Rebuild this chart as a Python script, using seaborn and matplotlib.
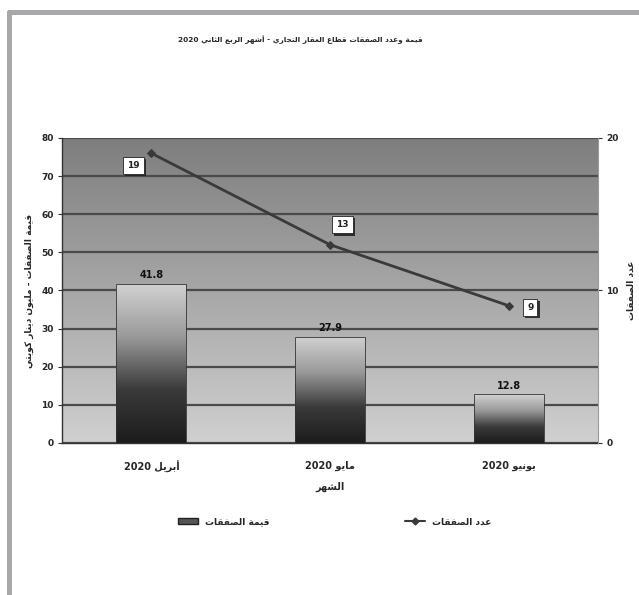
import numpy as np
import pandas as pd
import matplotlib
matplotlib.use("Agg")
import matplotlib.pyplot as plt
import matplotlib.patheffects as pe
from matplotlib.colors import LinearSegmentedColormap
from matplotlib.patches import Patch, Rectangle
from matplotlib.lines import Line2D
import seaborn as sns

# ---- data -------------------------------------------------------------
months = ["أبريل 2020", "مايو 2020", "يونيو 2020"]
deal_value = [41.8, 27.9, 12.8]      # million KWD
deal_count = [19, 13, 9]

title_text = "قيمة وعدد الصفقات قطاع العقار التجاري - أشهر الربع الثاني 2020"
left_label = "قيمة الصفقات - مليون دينار كويتي"
right_label = "عدد الصفقات"
x_label = "الشهر"
value_name = "قيمة الصفقات"
count_name = "عدد الصفقات"

# ---- minimal Arabic shaping (presentation forms + visual order) -------
# base letter -> (isolated, final, initial, medial); right-joiners have 2 forms
FORMS = {
    "\u0621": (0xFE80,),
    "\u0622": (0xFE81, 0xFE82), "\u0623": (0xFE83, 0xFE84),
    "\u0624": (0xFE85, 0xFE86), "\u0625": (0xFE87, 0xFE88),
    "\u0626": (0xFE89, 0xFE8A, 0xFE8B, 0xFE8C),
    "\u0627": (0xFE8D, 0xFE8E),
    "\u0628": (0xFE8F, 0xFE90, 0xFE91, 0xFE92),
    "\u0629": (0xFE93, 0xFE94),
    "\u062A": (0xFE95, 0xFE96, 0xFE97, 0xFE98),
    "\u062B": (0xFE99, 0xFE9A, 0xFE9B, 0xFE9C),
    "\u062C": (0xFE9D, 0xFE9E, 0xFE9F, 0xFEA0),
    "\u062D": (0xFEA1, 0xFEA2, 0xFEA3, 0xFEA4),
    "\u062E": (0xFEA5, 0xFEA6, 0xFEA7, 0xFEA8),
    "\u062F": (0xFEA9, 0xFEAA), "\u0630": (0xFEAB, 0xFEAC),
    "\u0631": (0xFEAD, 0xFEAE), "\u0632": (0xFEAF, 0xFEB0),
    "\u0633": (0xFEB1, 0xFEB2, 0xFEB3, 0xFEB4),
    "\u0634": (0xFEB5, 0xFEB6, 0xFEB7, 0xFEB8),
    "\u0635": (0xFEB9, 0xFEBA, 0xFEBB, 0xFEBC),
    "\u0636": (0xFEBD, 0xFEBE, 0xFEBF, 0xFEC0),
    "\u0637": (0xFEC1, 0xFEC2, 0xFEC3, 0xFEC4),
    "\u0638": (0xFEC5, 0xFEC6, 0xFEC7, 0xFEC8),
    "\u0639": (0xFEC9, 0xFECA, 0xFECB, 0xFECC),
    "\u063A": (0xFECD, 0xFECE, 0xFECF, 0xFED0),
    "\u0641": (0xFED1, 0xFED2, 0xFED3, 0xFED4),
    "\u0642": (0xFED5, 0xFED6, 0xFED7, 0xFED8),
    "\u0643": (0xFED9, 0xFEDA, 0xFEDB, 0xFEDC),
    "\u0644": (0xFEDD, 0xFEDE, 0xFEDF, 0xFEE0),
    "\u0645": (0xFEE1, 0xFEE2, 0xFEE3, 0xFEE4),
    "\u0646": (0xFEE5, 0xFEE6, 0xFEE7, 0xFEE8),
    "\u0647": (0xFEE9, 0xFEEA, 0xFEEB, 0xFEEC),
    "\u0648": (0xFEED, 0xFEEE), "\u0649": (0xFEEF, 0xFEF0),
    "\u064A": (0xFEF1, 0xFEF2, 0xFEF3, 0xFEF4),
}
LAM_ALEF = {"\u0627": (0xFEFB, 0xFEFC), "\u0623": (0xFEF7, 0xFEF8),
            "\u0625": (0xFEF9, 0xFEFA), "\u0622": (0xFEF5, 0xFEF6)}


def dual(ch):
    return ch in FORMS and len(FORMS[ch]) == 4


def shape(text):
    out = []
    i = 0
    n = len(text)
    while i < n:
        ch = text[i]
        if ch not in FORMS:
            out.append(ch)
            i += 1
            continue
        joins_prev = i > 0 and dual(text[i - 1])
        if ch == "\u0644" and i + 1 < n and text[i + 1] in LAM_ALEF:
            iso, fin = LAM_ALEF[text[i + 1]]
            out.append(chr(fin if joins_prev else iso))
            i += 2
            continue
        forms = FORMS[ch]
        joins_next = dual(ch) and i + 1 < n and text[i + 1] in FORMS
        if len(forms) == 1:
            out.append(chr(forms[0]))
        elif joins_prev and joins_next:
            out.append(chr(forms[3]))
        elif joins_prev:
            out.append(chr(forms[1]))
        elif joins_next:
            out.append(chr(forms[2]))
        else:
            out.append(chr(forms[0]))
        i += 1
    vis = "".join(out)[::-1]
    # restore left-to-right order of digit runs
    res, run = [], []
    for c in vis:
        if c.isdigit() or c == ".":
            run.append(c)
        else:
            res.extend(reversed(run))
            run = []
            res.append(c)
    res.extend(reversed(run))
    return "".join(res)


# ---- figure -----------------------------------------------------------
sns.set_style("white")
plt.rcParams["font.family"] = ["DejaVu Sans"]
plt.rcParams["font.weight"] = "bold"

fig = plt.figure(figsize=(6.39, 5.95), dpi=100)
ax = fig.add_axes([0.097, 0.2555, 0.839, 0.5126])

df = pd.DataFrame({"month": months, "value": deal_value})
sns.barplot(data=df, x="month", y="value", ax=ax, width=0.39,
            color="#888888", edgecolor="#333333", linewidth=0.6, zorder=3)

ax.set_xlim(-0.5, 2.5)
ax.set_ylim(0, 80)

# plot-area background: dark at the top fading to light grey
bg_cmap = LinearSegmentedColormap.from_list("bg", ["#d0d0d0", "#7e7e7e"])
grad = np.linspace(0, 1, 256).reshape(-1, 1)
ax.imshow(grad, extent=[-0.5, 2.5, 0, 80], origin="lower", aspect="auto",
          cmap=bg_cmap, zorder=0)

# horizontal gridlines
ax.set_yticks(np.arange(0, 81, 10))
ax.grid(axis="y", color="#4a4a4a", linewidth=1.6, zorder=1)
for gl in ax.get_ygridlines():
    gl.set_zorder(1)

# bar fill: light at the top, almost black at the base
bar_cmap = LinearSegmentedColormap.from_list("bar", ["#1c1c1c", "#3a3a3a", "#9a9a9a", "#d2d2d2"])
for bar in ax.patches:
    if not isinstance(bar, Rectangle):
        continue
    x0, y0 = bar.get_x(), bar.get_y()
    w, h = bar.get_width(), bar.get_height()
    im = ax.imshow(grad, extent=[x0, x0 + w, y0, y0 + h], origin="lower",
                   aspect="auto", cmap=bar_cmap, zorder=2.5)
    im.set_clip_path(bar)
    bar.set_facecolor("none")

# value labels above the bars
for i, v in enumerate(deal_value):
    ax.text(i, v + 0.9, f"{v:.1f}", ha="center", va="bottom",
            fontsize=7, fontweight="bold", color="#111111", zorder=5)

ax.set_xlim(-0.5, 2.5)
ax.set_ylim(0, 80)

# category axis with ticks at the boundaries
ax.set_xticks(range(len(months)))
ax.set_xticklabels([shape(m) for m in months], fontsize=7, fontweight="bold")
ax.set_xticks([0.5, 1.5], minor=True)
ax.tick_params(axis="x", which="major", length=0, pad=13)
ax.tick_params(axis="x", which="minor", length=4, width=0.8, color="#333333")
ax.tick_params(axis="y", length=3, width=0.8, color="#333333", labelsize=6.5, pad=3)
for lab in ax.get_yticklabels():
    lab.set_fontweight("bold")
ax.set_xlabel(shape(x_label), fontsize=7, fontweight="bold", labelpad=6)
ax.set_ylabel(shape(left_label), fontsize=6.5, fontweight="bold", labelpad=5)

for side in ["top", "right"]:
    ax.spines[side].set_visible(False)
ax.spines["left"].set_color("#333333")
ax.spines["bottom"].set_color("#333333")
ax.spines["left"].set_linewidth(1.0)
ax.spines["bottom"].set_linewidth(1.0)

# deal count on the secondary axis
ax2 = ax.twinx()
pos = np.arange(len(months))
sns.lineplot(x=pos, y=deal_count, ax=ax2, color="#3a3a3a", linewidth=2,
             marker="D", markersize=4.5, markeredgecolor="#3a3a3a", zorder=6)
ax2.set_xlim(-0.5, 2.5)
ax2.set_ylim(0, 20)
ax2.set_yticks([0, 10, 20])
ax2.tick_params(axis="y", length=3, width=0.8, color="#333333", labelsize=6.5, pad=3)
for lab in ax2.get_yticklabels():
    lab.set_fontweight("bold")
ax2.set_ylabel(shape(right_label), fontsize=6.5, fontweight="bold", labelpad=6)
for side in ["top", "left", "bottom"]:
    ax2.spines[side].set_visible(False)
ax2.spines["right"].set_color("#9a9a9a")

# boxed count labels with a small drop shadow
offsets = [(-0.1, -0.8), (0.07, 1.3), (0.12, -0.1)]
for i, (c, (dx, dy)) in enumerate(zip(deal_count, offsets)):
    t = ax2.text(i + dx, c + dy, str(c), ha="center", va="center", fontsize=6.5,
                 color="#222222", zorder=7,
                 bbox=dict(boxstyle="square,pad=0.45", facecolor="white",
                           edgecolor="#222222", linewidth=0.6))
    t.get_bbox_patch().set_path_effects(
        [pe.SimplePatchShadow(offset=(1.5, -1.5), shadow_rgbFace="#222222", alpha=0.9),
         pe.Normal()])

# title
fig.text(0.47, 0.933, shape(title_text), ha="center", va="center",
         fontsize=5.3, fontweight="bold")

# legend below the chart
handles = [Patch(facecolor="#555555", edgecolor="#222222"),
           Line2D([], [], color="#3a3a3a", linewidth=1.5, marker="D", markersize=3.5)]
fig.legend(handles, [shape(value_name), shape(count_name)], loc="center",
           bbox_to_anchor=(0.524, 0.123), ncol=2, frameon=False, fontsize=6.5,
           columnspacing=15, handlelength=2.2, handletextpad=0.8)

# outer frame on the left and top edges
fig.add_artist(Line2D([0.0137, 0.0137], [0.0, 0.980], transform=fig.transFigure,
                      color="#a8a8ac", linewidth=3.6))
fig.add_artist(Line2D([0.0137, 1.0], [0.980, 0.980], transform=fig.transFigure,
                      color="#a8a8ac", linewidth=3.6))

fig.savefig("out.png", dpi=100, facecolor="white")
